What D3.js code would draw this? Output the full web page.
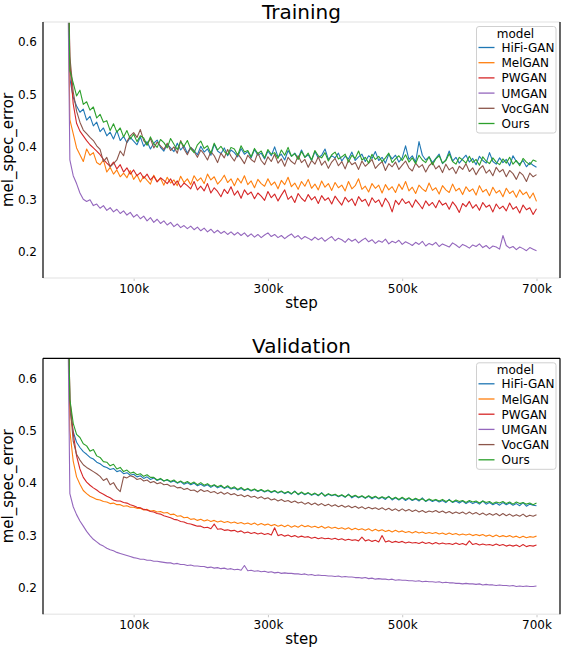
<!DOCTYPE html>
<html>
<head>
<meta charset="utf-8">
<script src="https://cdn.jsdelivr.net/npm/d3@7"></script>
<style>
  body { margin: 0; background: #fff; }
  text { font-family: "DejaVu Sans", sans-serif; fill: #000; }
</style>
</head>
<body>
<svg id="chart" width="562" height="648"></svg>
<script>
// training / validation steps, in thousands
const steps = [
  0,5,10,15,20,25,30,35,40,45,50,55,60,65,70,75,80,85,90,95,
  100,105,110,115,120,125,130,135,140,145,150,155,160,165,170,175,180,185,190,195,
  200,205,210,215,220,225,230,235,240,245,250,255,260,265,270,275,280,285,290,295,
  300,305,310,315,320,325,330,335,340,345,350,355,360,365,370,375,380,385,390,395,
  400,405,410,415,420,425,430,435,440,445,450,455,460,465,470,475,480,485,490,495,
  500,505,510,515,520,525,530,535,540,545,550,555,560,565,570,575,580,585,590,595,
  600,605,610,615,620,625,630,635,640,645,650,655,660,665,670,675,680,685,690,695,
  700
];

const models = ["HiFi-GAN", "MelGAN", "PWGAN", "UMGAN", "VocGAN", "Ours"];
const colors = ["#1f77b4", "#ff7f0e", "#d62728", "#9467bd", "#8c564b", "#2ca02c"];
const xTicks = [100, 300, 500, 700];
const yTicks = [0.2, 0.3, 0.4, 0.5, 0.6];

// ---- Training ----
const trainHifi = [
  .95,.530,.494,.478,.466,.472,.451,.458,.440,.447,
  .429,.436,.421,.428,.415,.431,.412,.420,.408,.418,
  .411,.404,.419,.401,.410,.396,.407,.413,.399,.392,
  .405,.398,.391,.407,.394,.402,.388,.399,.393,.385,
  .401,.390,.396,.384,.405,.392,.387,.398,.383,.394,
  .389,.381,.397,.386,.391,.379,.395,.384,.388,.377,
  .392,.383,.400,.381,.386,.375,.393,.382,.388,.378,
  .394,.380,.385,.374,.391,.379,.384,.396,.376,.383,
  .379,.388,.373,.382,.377,.390,.374,.381,.386,.372,
  .383,.378,.391,.374,.380,.369,.386,.377,.384,.371,
  .379,.402,.376,.383,.371,.410,.384,.375,.381,.370,
  .378,.386,.368,.375,.392,.373,.380,.369,.377,.384,
  .371,.378,.366,.382,.374,.369,.389,.372,.367,.379,
  .370,.376,.364,.383,.372,.367,.374,.362,.370,.365,
  .361
];
const trainMel = [
  .95,.452,.425,.398,.385,.372,.396,.384,.389,.370,
  .366,.375,.352,.361,.348,.356,.343,.350,.341,.355,
  .338,.347,.333,.344,.336,.329,.346,.334,.340,.327,
  .342,.331,.337,.326,.344,.332,.339,.328,.345,.335,
  .341,.330,.348,.337,.343,.329,.336,.346,.332,.339,
  .326,.340,.331,.345,.328,.335,.322,.338,.330,.325,
  .339,.327,.333,.320,.336,.328,.342,.324,.331,.319,
  .334,.325,.338,.321,.329,.318,.335,.323,.330,.317,
  .332,.322,.327,.316,.334,.320,.326,.339,.319,.325,
  .314,.330,.321,.327,.312,.328,.318,.324,.313,.329,
  .319,.334,.316,.323,.311,.327,.320,.315,.331,.317,
  .322,.310,.326,.318,.313,.329,.316,.321,.309,.324,
  .315,.320,.308,.326,.314,.319,.307,.323,.312,.317,
  .305,.321,.311,.316,.304,.318,.309,.314,.302,.312,
  .296
];
const trainPw = [
  .95,.560,.482,.445,.430,.421,.412,.404,.398,.392,
  .385,.376,.369,.363,.371,.358,.366,.352,.360,.348,
  .356,.345,.351,.340,.348,.337,.344,.333,.341,.336,
  .330,.339,.327,.335,.323,.331,.326,.320,.334,.318,
  .325,.316,.330,.312,.322,.315,.305,.319,.311,.324,
  .308,.316,.302,.318,.309,.314,.301,.312,.306,.298,
  .315,.303,.310,.297,.308,.318,.300,.306,.294,.311,
  .302,.296,.309,.299,.305,.292,.307,.298,.303,.291,
  .306,.297,.289,.304,.295,.301,.288,.305,.296,.300,
  .287,.303,.294,.299,.286,.302,.293,.276,.298,.290,
  .301,.292,.296,.285,.299,.291,.282,.297,.288,.294,
  .284,.298,.289,.293,.281,.295,.287,.275,.292,.286,
  .296,.283,.290,.279,.294,.285,.289,.276,.291,.282,
  .287,.278,.293,.281,.286,.274,.289,.280,.284,.271,
  .282
];
const trainUm = [
  .95,.375,.345,.330,.312,.300,.296,.299,.288,.291,
  .283,.288,.279,.284,.276,.281,.273,.278,.270,.275,
  .266,.271,.263,.268,.259,.265,.256,.262,.254,.259,
  .251,.256,.248,.253,.246,.250,.244,.249,.242,.247,
  .240,.245,.238,.243,.236,.241,.235,.239,.233,.238,
  .232,.237,.231,.236,.229,.234,.228,.233,.227,.232,
  .236,.229,.233,.227,.231,.225,.230,.234,.227,.231,
  .224,.229,.226,.222,.228,.223,.227,.220,.225,.229,
  .221,.226,.223,.218,.225,.220,.224,.217,.222,.226,
  .219,.223,.216,.221,.218,.224,.215,.220,.217,.222,
  .214,.219,.216,.212,.218,.214,.220,.211,.216,.213,
  .218,.210,.215,.212,.209,.217,.213,.208,.214,.211,
  .207,.213,.210,.215,.208,.212,.206,.211,.209,.205,
  .231,.212,.207,.210,.204,.209,.206,.202,.208,.205,
  .202
];
const trainVoc = [
  .95,.572,.505,.468,.447,.432,.425,.418,.412,.402,
  .395,.372,.380,.362,.368,.375,.392,.383,.410,.421,
  .427,.418,.433,.412,.404,.416,.398,.409,.402,.395,
  .407,.393,.400,.388,.412,.396,.385,.399,.391,.380,
  .394,.386,.375,.391,.383,.370,.388,.379,.395,.382,
  .373,.387,.378,.368,.384,.376,.371,.389,.374,.366,
  .381,.372,.386,.369,.377,.363,.380,.372,.367,.383,
  .370,.376,.361,.374,.367,.381,.365,.373,.359,.371,
  .378,.364,.372,.358,.375,.366,.370,.357,.373,.363,
  .369,.376,.359,.366,.372,.355,.368,.362,.371,.357,
  .365,.373,.360,.354,.369,.361,.366,.352,.364,.370,
  .358,.364,.351,.367,.356,.361,.349,.363,.357,.368,
  .353,.360,.347,.358,.364,.350,.356,.345,.361,.352,
  .357,.343,.355,.349,.338,.352,.346,.334,.350,.343,
  .347
];
const trainOurs = [
  .95,.545,.522,.497,.508,.481,.486,.470,.476,.455,
  .462,.447,.450,.431,.444,.428,.436,.419,.431,.415,
  .424,.410,.421,.417,.403,.419,.406,.399,.414,.408,
  .398,.416,.405,.395,.410,.401,.412,.396,.389,.404,
  .411,.397,.402,.388,.407,.394,.401,.391,.385,.399,
  .396,.384,.402,.390,.393,.381,.397,.387,.392,.379,
  .395,.386,.389,.378,.394,.384,.399,.382,.387,.376,
  .391,.380,.388,.375,.393,.383,.379,.389,.373,.385,
  .390,.377,.381,.386,.371,.384,.378,.392,.375,.380,
  .369,.386,.376,.382,.372,.379,.388,.370,.377,.383,
  .374,.385,.371,.379,.368,.384,.375,.370,.381,.366,
  .377,.383,.369,.374,.387,.372,.367,.380,.375,.369,
  .382,.370,.376,.365,.381,.373,.368,.379,.371,.366,
  .377,.369,.380,.367,.374,.364,.378,.371,.366,.375,
  .372
];

// ---- Validation ----
const validHifi = [
  .95,.540,.498,.478,.468,.460,.455,.449,.446,.440,
  .437,.432,.430,.426,.428,.422,.424,.418,.420,.415,
  .417,.412,.414,.409,.412,.407,.410,.405,.408,.404,
  .406,.402,.404,.400,.403,.398,.401,.397,.400,.395,
  .398,.394,.397,.392,.396,.391,.394,.390,.393,.389,
  .391,.387,.390,.386,.389,.385,.388,.384,.387,.383,
  .386,.382,.385,.381,.384,.380,.383,.379,.385,.378,
  .382,.378,.381,.377,.380,.376,.382,.375,.379,.376,
  .378,.374,.377,.373,.379,.372,.376,.372,.375,.371,
  .375,.370,.374,.370,.373,.369,.375,.368,.372,.368,
  .372,.367,.371,.367,.370,.366,.372,.365,.369,.365,
  .368,.364,.367,.363,.369,.363,.366,.362,.366,.361,
  .365,.361,.364,.360,.366,.360,.363,.359,.362,.358,
  .363,.359,.362,.358,.361,.357,.363,.356,.360,.358,
  .357
];
const validMel = [
  .95,.500,.442,.412,.398,.386,.380,.375,.372,.369,
  .368,.365,.364,.361,.362,.359,.359,.356,.357,.354,
  .354,.352,.352,.349,.350,.347,.348,.345,.346,.343,
  .344,.340,.341,.337,.338,.334,.335,.331,.332,.329,
  .331,.328,.330,.327,.329,.326,.328,.325,.327,.324,
  .326,.323,.325,.322,.324,.321,.324,.320,.323,.320,
  .322,.319,.321,.318,.320,.317,.320,.316,.319,.316,
  .320,.317,.319,.316,.318,.315,.318,.314,.317,.314,
  .316,.313,.315,.312,.315,.311,.314,.311,.313,.310,
  .313,.309,.312,.309,.311,.308,.310,.307,.310,.307,
  .309,.306,.308,.305,.308,.305,.307,.304,.306,.304,
  .306,.303,.305,.302,.305,.302,.304,.301,.303,.301,
  .303,.300,.302,.300,.302,.299,.301,.298,.301,.298,
  .300,.298,.300,.297,.299,.296,.299,.296,.298,.297,
  .299
];
const validPw = [
  .95,.560,.495,.452,.427,.411,.402,.396,.391,.387,
  .382,.379,.375,.372,.368,.366,.366,.363,.362,.359,
  .357,.354,.353,.350,.349,.346,.345,.342,.341,.338,
  .336,.334,.331,.330,.327,.326,.323,.322,.320,.318,
  .318,.315,.316,.313,.322,.312,.313,.310,.311,.309,
  .310,.307,.309,.305,.307,.304,.306,.303,.305,.302,
  .304,.301,.315,.300,.302,.299,.301,.298,.300,.297,
  .299,.297,.298,.295,.297,.294,.296,.294,.295,.293,
  .295,.292,.294,.291,.293,.291,.292,.290,.297,.290,
  .292,.289,.291,.288,.300,.288,.290,.287,.289,.287,
  .289,.286,.288,.286,.287,.285,.288,.285,.287,.284,
  .287,.284,.286,.284,.285,.283,.286,.283,.285,.282,
  .290,.283,.285,.282,.284,.282,.283,.281,.284,.281,
  .283,.280,.282,.280,.282,.279,.283,.279,.281,.280,
  .282
];
const validUm = [
  .95,.380,.355,.340,.328,.318,.308,.300,.293,.288,
  .283,.280,.276,.273,.271,.268,.266,.264,.262,.260,
  .258,.257,.255,.255,.253,.253,.251,.251,.250,.249,
  .248,.248,.246,.247,.245,.245,.243,.244,.242,.242,
  .241,.241,.239,.240,.238,.239,.237,.238,.236,.237,
  .235,.236,.234,.243,.233,.234,.232,.233,.231,.232,
  .230,.231,.229,.230,.228,.229,.228,.228,.227,.227,
  .226,.227,.225,.226,.224,.225,.224,.224,.223,.223,
  .222,.223,.221,.222,.221,.221,.220,.220,.219,.220,
  .218,.219,.217,.218,.217,.217,.216,.217,.215,.216,
  .215,.215,.214,.214,.213,.214,.212,.213,.212,.212,
  .211,.212,.210,.211,.210,.210,.209,.209,.208,.209,
  .208,.208,.207,.208,.206,.207,.206,.206,.205,.206,
  .205,.205,.204,.205,.203,.204,.203,.204,.203,.203,
  .204
];
const validVoc = [
  .95,.555,.480,.455,.444,.435,.430,.426,.422,.418,
  .413,.405,.409,.397,.401,.390,.384,.412,.410,.414,
  .412,.407,.409,.404,.406,.401,.403,.399,.401,.397,
  .398,.394,.395,.391,.392,.388,.390,.386,.387,.383,
  .388,.384,.386,.382,.384,.380,.383,.379,.382,.378,
  .380,.376,.378,.374,.377,.373,.375,.371,.374,.370,
  .372,.368,.370,.366,.369,.365,.367,.363,.366,.362,
  .364,.360,.363,.359,.362,.358,.361,.357,.360,.356,
  .359,.355,.358,.354,.357,.353,.356,.352,.355,.351,
  .354,.351,.353,.350,.353,.349,.352,.348,.351,.347,
  .351,.347,.350,.346,.349,.345,.348,.344,.347,.345,
  .348,.344,.347,.343,.346,.342,.345,.342,.345,.341,
  .345,.341,.344,.340,.343,.339,.342,.339,.342,.338,
  .342,.338,.341,.337,.340,.337,.341,.336,.339,.337,
  .340
];
const validOurs = [
  .95,.560,.514,.493,.487,.475,.471,.461,.464,.452,
  .449,.441,.440,.433,.436,.427,.430,.422,.425,.419,
  .421,.416,.418,.413,.416,.411,.411,.406,.409,.404,
  .407,.403,.406,.401,.404,.400,.403,.399,.402,.397,
  .401,.396,.399,.394,.397,.393,.396,.391,.395,.390,
  .393,.388,.392,.387,.390,.386,.389,.385,.388,.384,
  .387,.383,.386,.382,.385,.381,.384,.380,.384,.379,
  .383,.379,.382,.378,.381,.377,.381,.376,.380,.377,
  .379,.375,.378,.374,.378,.374,.377,.373,.376,.372,
  .376,.372,.375,.371,.374,.371,.374,.370,.373,.369,
  .373,.369,.372,.368,.371,.368,.370,.366,.370,.367,
  .369,.366,.369,.365,.368,.364,.368,.365,.367,.363,
  .367,.364,.366,.362,.366,.363,.365,.361,.364,.362,
  .365,.361,.364,.360,.364,.361,.363,.360,.362,.359,
  .362
];

const trainData = [trainHifi, trainMel, trainPw, trainUm, trainVoc, trainOurs];
const validData = [validHifi, validMel, validPw, validUm, validVoc, validOurs];

const svg = d3.select("#chart");

function panel(id, top, title, data, topSpine) {
  const left = 43, right = 560, height = 256;

  const x = d3.scaleLinear().domain([-35, 735]).range([left, right]);
  const y = d3.scaleLinear().domain([0.15, 0.638]).range([top + height, top]);

  const g = svg.append("g");

  g.append("clipPath")
      .attr("id", "clip-" + id)
    .append("rect")
      .attr("x", left).attr("y", top)
      .attr("width", right - left).attr("height", height);

  // x axis
  const xAxis = d3.axisBottom(x)
      .tickValues(xTicks)
      .tickFormat(d => d + "k")
      .tickSize(3)
      .tickPadding(3);
  const xg = g.append("g")
      .attr("transform", "translate(0," + (top + height) + ")")
      .call(xAxis);
  xg.select(".domain").remove();
  xg.selectAll(".tick line").attr("stroke", "#c8c8c8");
  xg.selectAll("text").style("font-size", "12px").style("font-family", "DejaVu Sans").attr("fill", "#000");

  // y axis
  const yAxis = d3.axisLeft(y)
      .tickValues(yTicks)
      .tickFormat(d3.format(".1f"))
      .tickSize(0)
      .tickPadding(6);
  const yg = g.append("g")
      .attr("transform", "translate(" + left + ",0)")
      .call(yAxis);
  yg.select(".domain").remove();
  yg.selectAll("text").style("font-size", "12px").style("font-family", "DejaVu Sans").attr("fill", "#000");

  // lines
  const line = d3.line()
      .x((d, i) => x(steps[i]))
      .y(d => y(d));

  g.append("g")
      .attr("clip-path", "url(#clip-" + id + ")")
    .selectAll("path")
    .data(data)
    .join("path")
      .attr("d", line)
      .attr("fill", "none")
      .attr("stroke", (d, i) => colors[i])
      .attr("stroke-width", 1.1)
      .attr("stroke-linejoin", "round");

  // spines
  const grey = "#ebebeb";
  g.append("line").attr("x1", left).attr("x2", right).attr("y1", top + height).attr("y2", top + height)
      .attr("stroke", grey).attr("stroke-width", 1.5);
  g.append("line").attr("x1", left).attr("x2", right).attr("y1", top).attr("y2", top)
      .attr("stroke", topSpine).attr("stroke-width", topSpine === "#000" ? 1.2 : 1.5);
  g.append("line").attr("x1", left).attr("x2", left).attr("y1", top).attr("y2", top + height)
      .attr("stroke", "#000").attr("stroke-width", 1.2);
  g.append("line").attr("x1", right).attr("x2", right).attr("y1", top).attr("y2", top + height)
      .attr("stroke", "#000").attr("stroke-width", 1.2);

  // titles and labels
  g.append("text")
      .attr("x", (left + right) / 2).attr("y", Math.max(top - 5, 19))
      .attr("text-anchor", "middle")
      .style("font-size", "20px")
      .text(title);

  g.append("text")
      .attr("x", (left + right) / 2).attr("y", top + height + 30)
      .attr("text-anchor", "middle")
      .style("font-size", "15px")
      .text("step");

  g.append("text")
      .attr("transform", "translate(13," + (top + height / 2) + ") rotate(-90)")
      .attr("text-anchor", "middle")
      .style("font-size", "15px")
      .text("mel_spec_error");

  // legend
  const lg = g.append("g")
      .attr("transform", "translate(476.5," + (top + 4.5) + ")");
  lg.append("rect")
      .attr("width", 79.5).attr("height", 106.5)
      .attr("rx", 2.5)
      .attr("fill", "#fff").attr("fill-opacity", 0.8)
      .attr("stroke", "#d0d0d0");
  lg.append("text")
      .attr("x", 39).attr("y", 11)
      .attr("text-anchor", "middle")
      .style("font-size", "12px")
      .text("model");
  const rows = lg.selectAll(".row")
    .data(models)
    .join("g")
      .attr("class", "row")
      .attr("transform", (d, i) => "translate(0," + (21 + i * 15.2) + ")");
  rows.append("line")
      .attr("x1", 2).attr("x2", 18)
      .attr("y1", 0).attr("y2", 0)
      .attr("stroke", (d, i) => colors[i])
      .attr("stroke-width", 1.3);
  rows.append("text")
      .attr("x", 25).attr("y", 4.5)
      .style("font-size", "12px")
      .text(d => d);
}

panel("train", 22, "Training", trainData, "#ebebeb");
panel("valid", 358.3, "Validation", validData, "#000");
</script>
</body>
</html>
